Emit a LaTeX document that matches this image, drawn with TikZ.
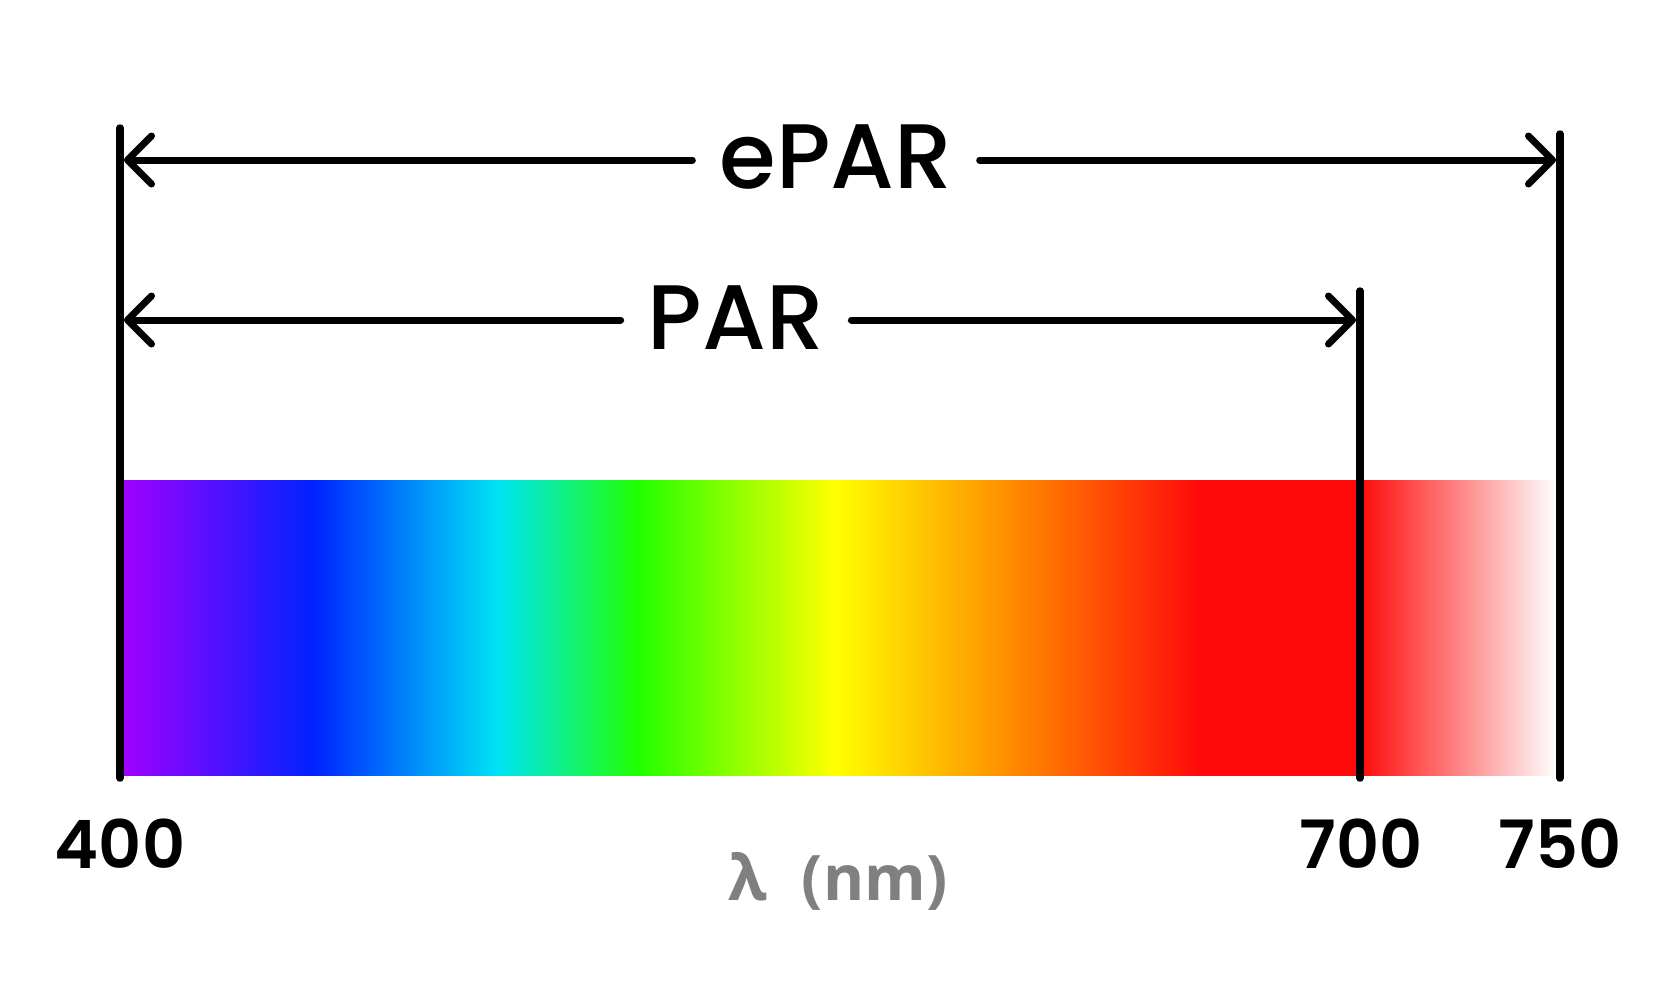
\documentclass[tikz,border=0pt]{standalone}
\usepackage{fontspec}
\setmainfont{Lato}
\newfontfamily\lamfont{Open Sans}
\newfontfamily\popfont{Poppins}[UprightFont={* Medium}]
\newfontfamily\numfont{Poppins}[UprightFont={* SemiBold}]
\usetikzlibrary{arrows.meta}
\definecolor{cviolet}{HTML}{A000FF}
\definecolor{cblue}{HTML}{0022FF}
\definecolor{ccyan}{HTML}{00E5F5}
\definecolor{cgreen}{HTML}{22FF00}
\definecolor{cyellow}{HTML}{FFFF00}
\definecolor{corange}{HTML}{FF8C00}
\definecolor{cred}{HTML}{FF0A0A}
\definecolor{cwhite}{HTML}{FFFFFF}
\definecolor{labelgray}{HTML}{808080}
\pgfdeclarehorizontalshading{spectrumshade}{295bp}{%
  color(0bp)=(cviolet); color(190bp)=(cblue); color(376bp)=(ccyan);
  color(515bp)=(cgreen); color(711bp)=(cyellow); color(887bp)=(corange);
  color(1075bp)=(cred); color(1236bp)=(cred); color(1433bp)=(cwhite)}
\begin{document}
\begin{tikzpicture}[x=1bp,y=-1bp,
  bar/.style={line width=7.5bp, line cap=round},
  dimline/.style={line width=7bp, line cap=round},
  dimtip/.style={-{Straight Barb[length=24bp,width=48bp,round]}},
  biglabel/.style={font=\popfont\fontsize{92}{104}\selectfont, inner xsep=27bp, inner ysep=0pt, anchor=base},
  numlabel/.style={font=\numfont\fontsize{67}{80}\selectfont, inner sep=0pt, anchor=base},
  axislabel/.style={font=\lamfont\bfseries\fontsize{63}{72}\selectfont, text=labelgray, inner sep=0pt, anchor=base}]
\useasboundingbox (0,0) rectangle (1680,992);
% spectrum
\node[inner sep=0pt, anchor=north west] (spectrum) at (123,480) {\pgfuseshading{spectrumshade}};
% vertical bars
\coordinate (lt) at (120,128);
\coordinate (lb) at (120,778);
\coordinate (et) at (1560,134);
\coordinate (eb) at (1560,778);
\coordinate (pt) at (1360,291);
\coordinate (pb) at (1360,778);
\draw[bar] (lt) -- (lb);
\draw[bar] (et) -- (eb);
\draw[bar] (pt) -- (pb);
% ePAR
\coordinate (eL) at (124,160);
\coordinate (eR) at (1556,160);
\node[biglabel] (epar) at (836,188) {ePAR};
\draw[dimline,dimtip] (eL -| epar.west) -- (eL);
\draw[dimline,dimtip] (eR -| epar.east) -- (eR);
% PAR
\coordinate (pL) at (124,320);
\coordinate (pR) at (1356,320);
\node[biglabel] (par) at (736,349) {PAR};
\draw[dimline,dimtip] (pL -| par.west) -- (pL);
\draw[dimline,dimtip] (pR -| par.east) -- (pR);
% numbers
\node[numlabel] (n400) at (120,868) {400};
\node[numlabel] (n700) at (1361,868) {700};
\node[numlabel] (n750) at (1560,868) {750};
\node[axislabel] (lam) at (838,900) {λ\hspace{0.55em}(nm)};
\end{tikzpicture}
\end{document}
